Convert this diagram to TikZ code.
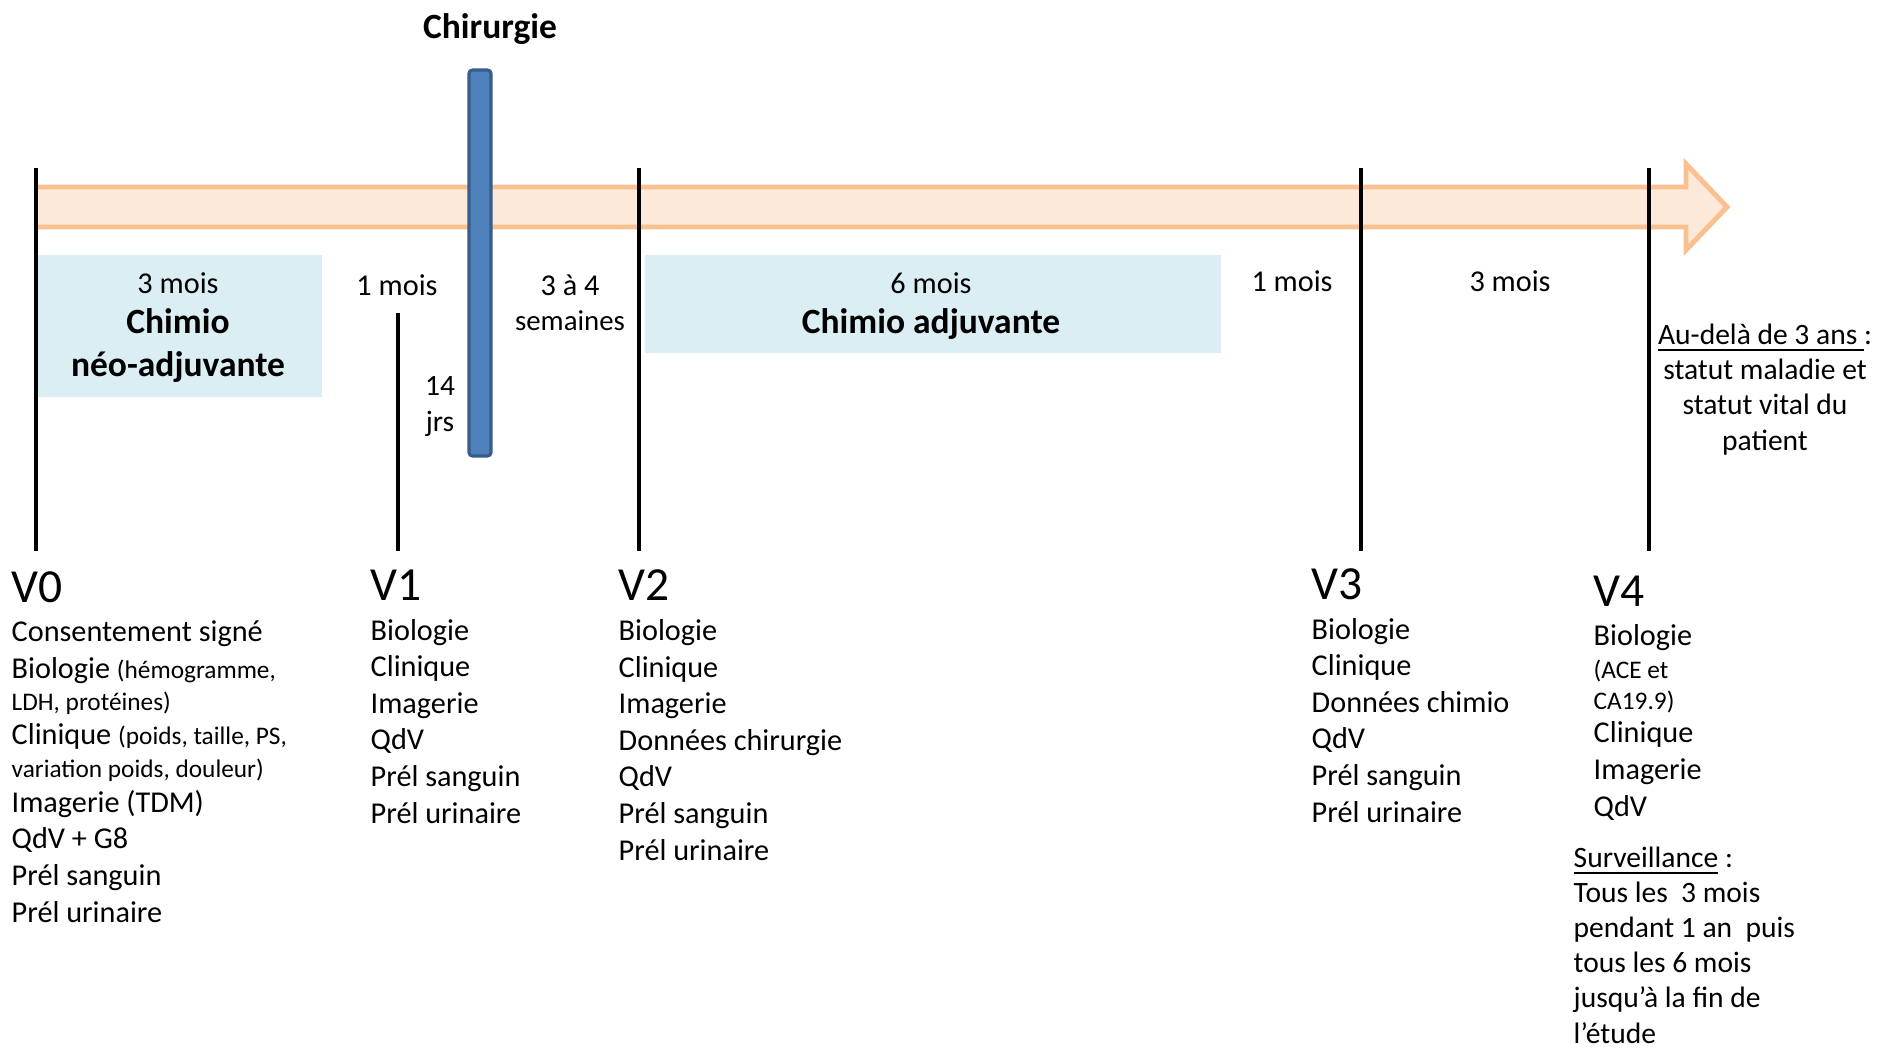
\documentclass[tikz,border=0pt]{standalone}
\usepackage{fontspec}
\setmainfont{Carlito}
\definecolor{bandfill}{HTML}{FDE9D9}
\definecolor{banddraw}{HTML}{FAC090}
\definecolor{chimiofill}{HTML}{DAEEF3}
\definecolor{barfill}{HTML}{4F81BD}
\definecolor{bardraw}{HTML}{385D8A}
\newcommand{\petit}{\fontsize{7.2}{8}\selectfont}
\begin{document}
\begin{tikzpicture}[x=0.01cm,y=-0.01cm,
  visite/.style={line width=1.3pt},
  titre/.style={anchor=base west,inner sep=0,font=\fontsize{13.5}{16}\selectfont},
  liste/.style={anchor=base west,inner sep=0,align=left,font=\fontsize{8.6}{10.4}\selectfont},
  duree/.style={anchor=base,inner sep=0,font=\fontsize{8.6}{10.2}\selectfont},
  gras/.style={anchor=base,inner sep=0,font=\fontsize{10.1}{12}\selectfont\bfseries}]
\useasboundingbox (0,0) rectangle (1877,1048);
% fleche du temps
\draw[banddraw,fill=bandfill,line width=1.4pt] (36,187) -- (1686,187) -- (1686,164) -- (1727,207) -- (1686,250) -- (1686,227) -- (36,227);
% chimio
\fill[chimiofill] (38,255) rectangle (322,397);
\fill[chimiofill] (645,255) rectangle (1221,353);
% visites
\foreach \x in {36,639,1361,1649} \draw[visite] (\x,168) -- (\x,551);
\draw[visite] (398,313) -- (398,551);
% chirurgie
\draw[bardraw,fill=barfill,line width=0.9pt,rounded corners=1pt] (469,70) rectangle (491,456);
\node[gras] (chir) at (490,38) {Chirurgie};

\node[duree] (neo) at (178,293) {3 mois};
\node[gras] (neo1) at (178,333) {Chimio};
\node[gras] (neo2) at (178,376) {néo-adjuvante};
\node[duree] (att) at (397,295) {1 mois};
\node[anchor=base,inner sep=0,align=center,font=\fontsize{8.4}{10.2}\selectfont] (jrs) at (440,431) {14\\jrs};
\node[duree] (sem) at (570,295) {3 à 4};
\node[duree,font=\fontsize{8.2}{9}\selectfont] (sem2) at (570,330) {semaines};
\node[duree] (adj) at (931,293) {6 mois};
\node[gras] (adj1) at (931,333) {Chimio adjuvante};
\node[duree] (m1) at (1292,291) {1 mois};
\node[duree] (m3) at (1510,291) {3 mois};
\node[anchor=base,align=center,inner sep=0,font=\fontsize{8.4}{9.96}\selectfont] (audela) at (1765,450)
  {\underline{Au-delà de 3 ans }:\\statut maladie et\\statut vital du\\patient};

% V0
\node[titre] (V0) at (11,602) {V0};
\node[liste] (l0) at (11,922) {Consentement signé\\[0.3pt]Biologie {\petit(hémogramme,}\\[-1.3pt]
  {\petit LDH, protéines)}\\[-0.7pt]Clinique {\petit(poids, taille, PS,}\\[-1pt]
  {\petit variation poids, douleur)}\\[-0.6pt]Imagerie (TDM)\\QdV + G8\\Prél sanguin\\Prél urinaire};
% V1
\node[titre] (V1) at (370,600) {V1};
\node[liste] (l1) at (370,823) {Biologie\\Clinique\\Imagerie\\QdV\\Prél sanguin\\Prél urinaire};
% V2
\node[titre] (V2) at (618,600) {V2};
\node[liste] (l2) at (618,860) {Biologie\\Clinique\\Imagerie\\Données chirurgie\\QdV\\Prél sanguin\\Prél urinaire};
% V3
\node[titre] (V3) at (1311,599) {V3};
\node[liste] (l3) at (1311,822) {Biologie\\Clinique\\Données chimio\\QdV\\Prél sanguin\\Prél urinaire};
% V4
\node[titre] (V4) at (1593,606) {V4};
\node[liste] (l4) at (1593,816) {Biologie\\[-1pt]{\petit(ACE et}\\[-1.5pt]{\petit CA19.9)}\\[-0.9pt]Clinique\\Imagerie\\QdV};
\node[liste,font=\fontsize{8.4}{9.96}\selectfont] (surv) at (1573,1043)
  {\underline{Surveillance} :\\Tous les\ \ 3 mois\\pendant 1 an\ \ puis\\tous les 6 mois\\jusqu’à la fin de\\l’étude};
\end{tikzpicture}
\end{document}
